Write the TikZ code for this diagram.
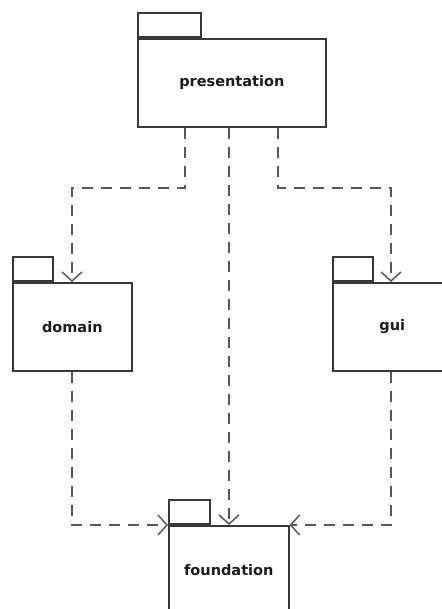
\documentclass[tikz,border=0pt]{standalone}
\usepackage{fontspec}
\setmainfont{DejaVu Sans}
\usetikzlibrary{arrows.meta}
\definecolor{boxline}{HTML}{383838}
\definecolor{depline}{HTML}{585858}
\definecolor{labeltext}{HTML}{1C1C1C}
\begin{document}
\begin{tikzpicture}[x=1pt,y=-1pt,
  pkgbody/.style={draw=boxline, line width=1.6pt, fill=white, rectangle,
    anchor=north west, inner sep=0pt, minimum width=#1,
    minimum height=88pt, font=\bfseries\fontsize{14.5}{17}\selectfont,
    text=labeltext},
  pkgtab/.style={draw=boxline, line width=1.6pt, fill=white, rectangle,
    anchor=south west, inner sep=0pt, minimum width=#1, minimum height=24pt},
  dep/.style={draw=depline, line width=1.9pt, dash pattern=on 11pt off 8pt,
    -{Straight Barb[length=9pt,width=20pt,line width=1.5pt]}},
]
\useasboundingbox (0,0) rectangle (441,609);

% packages: body with its tab on the upper left corner
\node[pkgbody=188pt] (pres) at (137,38) {presentation};
\node[pkgtab=63pt]   (prestab) at (pres.north west) {};
\node[pkgbody=119pt] (dom) at (12,282) {domain};
\node[pkgtab=40pt]   (domtab) at (dom.north west) {};
\node[pkgbody=119pt] (gui) at (332,282) {gui};
\node[pkgtab=40pt]   (guitab) at (gui.north west) {};
\node[pkgbody=120pt] (fnd) at (168,525) {foundation};
\node[pkgtab=41pt]   (fndtab) at (fnd.north west) {};

% ports and bends of the dependencies
\coordinate (pA) at ([xshift=48pt]pres.south west);
\coordinate (pB) at ([xshift=92pt]pres.south west);
\coordinate (pC) at ([xshift=141pt]pres.south west);
\coordinate (dIn) at ([xshift=60pt]dom.north west);
\coordinate (gIn) at ([xshift=59pt]gui.north west);
\coordinate (dOut) at ([xshift=60pt]dom.south west);
\coordinate (gOut) at ([xshift=59pt]gui.south west);

% dependencies
\draw[dep] (pA) -- (pA |- 0,188) -| (dIn);
\draw[dep] (pC) -- (pC |- 0,188) -| (gIn);
\draw[dep] (pB) -- (pB |- fnd.north);
\draw[dep] (dOut) |- (fnd.north west);
\draw[dep] (gOut) |- (fnd.north east);
\end{tikzpicture}
\end{document}
